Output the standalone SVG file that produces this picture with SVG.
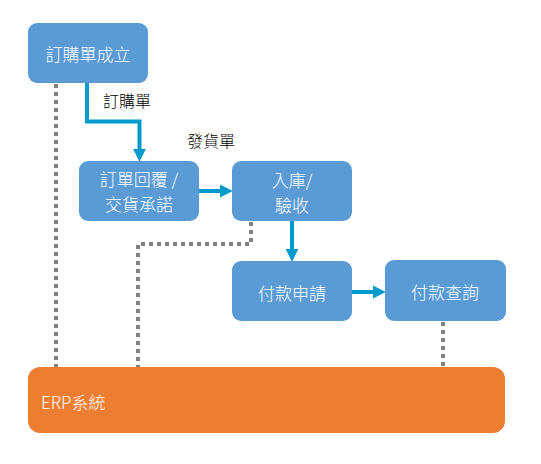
<svg xmlns="http://www.w3.org/2000/svg" width="541" height="464" viewBox="0 0 541 464">
<style>
.box{fill:#5B9BD5;}
.erp{fill:#ED7D31;}
.bt{fill:#ffffff;font-family:"Noto Sans CJK TC","Noto Sans CJK SC",sans-serif;font-size:17px;font-weight:300;text-anchor:middle;dominant-baseline:central;}
.lbl{fill:#000000;font-family:"Noto Sans CJK TC","Noto Sans CJK SC",sans-serif;font-size:16px;font-weight:300;dominant-baseline:central;}
.dot{fill:none;stroke:#808080;stroke-width:4;stroke-dasharray:4 4;}
.flow{fill:none;stroke:#009ACD;stroke-width:4;}
</style>
<defs>
<marker id="ah" markerWidth="4" markerHeight="4" refX="0" refY="2" orient="auto" markerUnits="strokeWidth" viewBox="0 0 4 4">
<path d="M0,0.4 L3.2,2 L0,3.6 Z" fill="#009ACD"/>
</marker>
</defs>
<g id="connectors">
<path class="dot" d="M56,84 V367"/>
<path class="dot" d="M251,222 V244 H138 V367"/>
<path class="dot" d="M443,322 V367"/>
<path class="flow" d="M87,83 V121.5 H139.5 V149" marker-end="url(#ah)"/>
<path class="flow" d="M199,191 H220" marker-end="url(#ah)"/>
<path class="flow" d="M292,221 V249" marker-end="url(#ah)"/>
<path class="flow" d="M352,292 H373" marker-end="url(#ah)"/>
<text class="lbl" x="103" y="100">訂購單</text>
<text class="lbl" x="187" y="140">發貨單</text>
</g>
<g id="n1"><rect class="box" x="28" y="23" width="120" height="60" rx="9"/><text class="bt" x="88" y="53">訂購單成立</text></g>
<g id="n2"><rect class="box" x="79" y="161" width="120" height="60" rx="9"/><text class="bt" x="139" y="178.5">訂單回覆 /</text><text class="bt" x="139" y="203.5">交貨承諾</text></g>
<g id="n3"><rect class="box" x="232" y="161" width="120" height="60" rx="9"/><text class="bt" x="292" y="179">入庫/</text><text class="bt" x="292" y="204">驗收</text></g>
<g id="n4"><rect class="box" x="232" y="261" width="120" height="60" rx="9"/><text class="bt" x="292" y="292">付款申請</text></g>
<g id="n5"><rect class="box" x="385" y="260" width="121" height="61" rx="9"/><text class="bt" x="445" y="291">付款查詢</text></g>
<g id="erp"><rect class="erp" x="28" y="367" width="477" height="66" rx="12"/><text class="bt" x="41" y="401" style="text-anchor:start">ERP系統</text></g>
</svg>
